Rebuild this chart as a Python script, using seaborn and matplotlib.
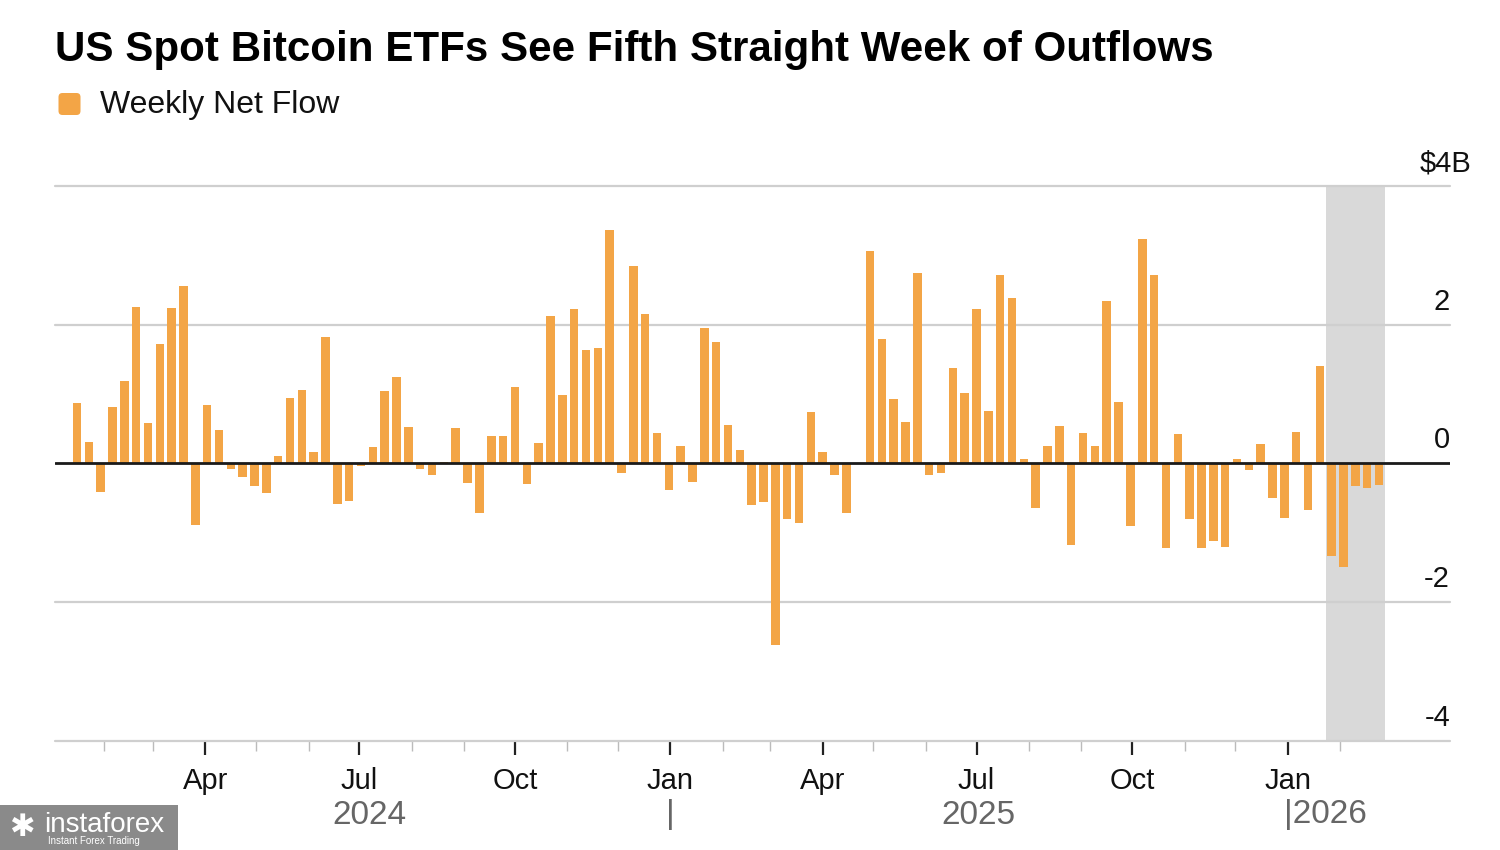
import pandas as pd
import matplotlib
matplotlib.use('Agg')
import matplotlib.pyplot as plt
import matplotlib.dates as mdates
import matplotlib.ticker as mticker
import matplotlib.transforms as mtransforms
from matplotlib.patches import FancyBboxPatch, Rectangle
import seaborn as sns

# Weekly net flows, $ billions (first bar mid-Jan 2024)
first_week = '2024-01-16'
flows = [
    0.87, 0.31, -0.41, 0.81, 1.19, 2.26, 0.58, 1.72, 2.24, 2.56,
    -0.89, 0.84, 0.48, -0.08, -0.20, -0.32, -0.43, 0.11, 0.95, 1.06,
    0.16, 1.83, -0.58, -0.54, -0.04, 0.24, 1.04, 1.24, 0.53, -0.08,
    -0.17, 0.02, 0.51, -0.28, -0.71, 0.40, 0.39, 1.10, -0.30, 0.30,
    2.13, 0.99, 2.22, 1.64, 1.66, 3.36, -0.13, 2.85, 2.15, 0.44,
    -0.38, 0.25, -0.26, 1.96, 1.75, 0.55, 0.20, -0.60, -0.56, -2.62,
    -0.80, -0.86, 0.74, 0.16, -0.17, -0.71, 0.00, 3.06, 1.80, 0.93,
    0.60, 2.75, -0.17, -0.13, 1.38, 1.02, 2.22, 0.76, 2.72, 2.38,
    0.07, -0.64, 0.25, 0.54, -1.18, 0.44, 0.25, 2.34, 0.88, -0.90,
    3.24, 2.71, -1.22, 0.43, -0.80, -1.22, -1.11, -1.21, 0.06, -0.09,
    0.28, -0.50, -0.78, 0.45, -0.67, 1.41, -1.33, -1.49, -0.33, -0.36,
    -0.31,
]
outflow_streak = 5  # last five weeks shaded
y_ticks = [-4, -2, 0, 2, 4]
y_labels = ['-4', '-2', '0', '2', '$4B']
year_labels = ['2024', '2025', '2026']

weeks = pd.date_range(first_week, periods=len(flows), freq='7D')
df = pd.DataFrame({'x': mdates.date2num(weeks), 'flow': flows})

sns.set_theme(style='white')
plt.rcParams['font.family'] = ['Liberation Sans', 'DejaVu Sans']

bar_color = '#F3A546'
grid_color = '#CFCFCF'

fig = plt.figure(figsize=(15, 8.5), dpi=100)
ax = fig.add_axes([55 / 1500, 1 - 741 / 850, 1395 / 1500, 555 / 850])

sns.barplot(data=df, x='x', y='flow', native_scale=True, color=bar_color,
            saturation=1, width=0.72, linewidth=0, errorbar=None, ax=ax, zorder=2)

# shaded recent streak
x0 = df['x'].iloc[-outflow_streak] - 3.6
x1 = df['x'].iloc[-1] + 3.6
ax.axvspan(x0, x1, color='#D9D9D9', zorder=0, lw=0)

ax.set_ylim(-4, 4)
xmin = mdates.date2num(pd.Timestamp('2024-01-03'))
xmax = mdates.date2num(pd.Timestamp('2026-04-07'))
ax.set_xlim(xmin, xmax)

for s in ax.spines.values():
    s.set_visible(False)

for v in y_ticks:
    if v == 0:
        ax.axhline(0, color='#1a1a1a', lw=2, zorder=3)
    else:
        ax.axhline(v, color=grid_color, lw=1.6, zorder=1, clip_on=False)

# y labels sit above their gridline at the right end
ax.set_yticks([])
lab_tr = mtransforms.offset_copy(ax.get_yaxis_transform(), fig=fig, y=9, units='dots')
for v, lab in zip(y_ticks, y_labels):
    xpos = 1.0 if lab != '$4B' else 1.0155
    ax.text(xpos, v, lab, transform=lab_tr, ha='right', va='bottom',
            fontsize=21, color='#111111')

# ticks only up to the last data month
major_dates = pd.date_range('2024-04-01', '2026-01-01', freq='QS')
minor_dates = pd.date_range('2024-02-01', '2026-02-01', freq='MS')
minor_dates = minor_dates[~minor_dates.isin(major_dates)]
ax.xaxis.set_major_locator(mticker.FixedLocator(mdates.date2num(major_dates)))
ax.xaxis.set_major_formatter(mdates.DateFormatter('%b'))
ax.xaxis.set_minor_locator(mticker.FixedLocator(mdates.date2num(minor_dates)))
ax.tick_params(axis='x', which='major', length=10, width=1.6, color='#222222',
               labelsize=21, pad=9, labelcolor='#111111', bottom=True)
ax.tick_params(axis='x', which='minor', length=7, width=1, color='#BBBBBB', bottom=True)
ax.set_xlabel('')
ax.set_ylabel('')

# year labels under the month labels
yr_tr = mtransforms.blended_transform_factory(ax.transData, fig.transFigure)
y_year = 1 - 815 / 850
jan25 = mdates.date2num(pd.Timestamp('2025-01-01'))
jan26 = mdates.date2num(pd.Timestamp('2026-01-01'))
jul25 = mdates.date2num(pd.Timestamp('2025-07-02'))
yr_style = dict(transform=yr_tr, va='center', fontsize=24, color='#666666')
ax.text((xmin + jan25) / 2 + 4, y_year, year_labels[0], ha='center', **yr_style)
ax.text(jan25, y_year, '|', ha='center', **yr_style)
ax.text(jul25, y_year, year_labels[1], ha='center', **yr_style)
ax.text(jan26 - 2, y_year, '|' + year_labels[2], ha='left', **yr_style)

# title and legend
fig.text(55 / 1500, 1 - 50 / 850, 'US Spot Bitcoin ETFs See Fifth Straight Week of Outflows',
         fontsize=30.3, weight='bold', va='center', color='#000000')
fig.add_artist(FancyBboxPatch((0.585, 8.5 - 1.15), 0.22, 0.22,
                              boxstyle='round,pad=0,rounding_size=0.04',
                              transform=fig.dpi_scale_trans, color=bar_color, lw=0))
fig.text(100 / 1500, 1 - 105 / 850, 'Weekly Net Flow', fontsize=23, va='center',
         color='#111111')

# watermark box
fig.add_artist(Rectangle((0, 0), 178 / 1500, 45 / 850, transform=fig.transFigure,
                         color='#8A8A8A', lw=0))
fig.text(44 / 1500, 25 / 850, 'instaforex', fontsize=20, color='white', va='center')
fig.text(48 / 1500, 9 / 850, 'Instant Forex Trading', fontsize=7, color='white', va='center')
fig.text(22 / 1500, 22 / 850, '\u2731', fontsize=22, color='white', va='center', ha='center',
         family=['DejaVu Sans'])

fig.savefig('out.png', dpi=100, facecolor='white')
